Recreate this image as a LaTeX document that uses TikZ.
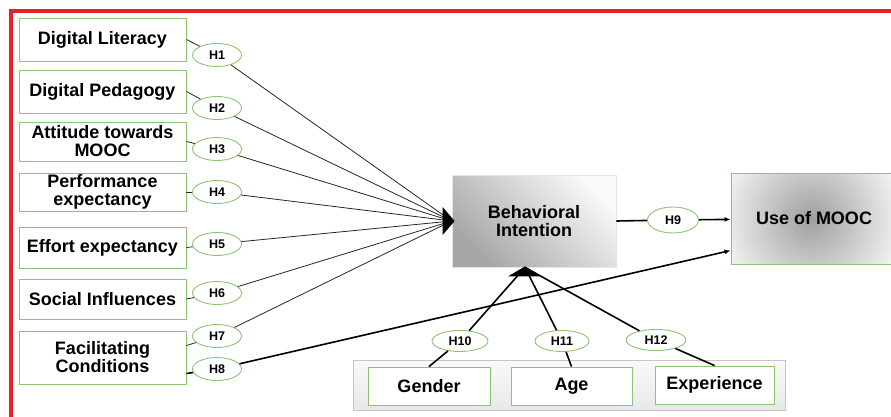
\documentclass[tikz,border=0pt]{standalone}
\usepackage{fontspec}
\setmainfont{Liberation Sans}
\usetikzlibrary{shapes.geometric,arrows.meta,calc}
\definecolor{boxgreen}{RGB}{140,196,116}
\definecolor{framered}{RGB}{232,32,40}
\begin{document}
\begin{tikzpicture}[x=1pt,y=-1pt,
    factor/.style={draw=boxgreen,line width=0.9pt,fill=white,minimum width=167pt,
      inner sep=0pt,align=center,font=\fontsize{18}{18}\selectfont\bfseries},
    hyp/.style={ellipse,draw=boxgreen,line width=0.9pt,fill=white,minimum width=49pt,
      minimum height=23pt,inner sep=0pt,font=\fontsize{12.5}{12.5}\selectfont\bfseries},
    link/.style={draw=black!85,line width=0.8pt},
    boldlink/.style={draw=black,line width=1.6pt}]
    \useasboundingbox (0,0) rectangle (891,417);
    %% red frame
    \draw[framered,line width=3.5pt] (11,417) -- (11,11) -- (891,11);
    %% predictors
    \node[factor,minimum height=43pt] (lit) at (102.5,39.5) {Digital Literacy};
    \node[factor,minimum height=43pt] (ped) at (102.5,91.5) {Digital Pedagogy};
    \node[factor,minimum height=39pt] (att) at (102.5,141.5) {Attitude towards\\MOOC};
    \node[factor,minimum height=38pt] (perf) at (102.5,192) {Performance\\expectancy};
    \node[factor,minimum height=41pt] (eff) at (102.5,247.5) {Effort expectancy};
    \node[factor,minimum height=40pt] (soc) at (102.5,299) {Social Influences};
    \node[factor,minimum height=53pt] (fac) at (102.5,357.5) {Facilitating\\Conditions};
    %% hypotheses H1--H8
    \node[hyp] (h1) at (217,55) {H1};
    \node[hyp] (h2) at (217,108) {H2};
    \node[hyp] (h3) at (217,149) {H3};
    \node[hyp] (h4) at (217,192) {H4};
    \node[hyp] (h5) at (217,244) {H5};
    \node[hyp] (h6) at (217,293) {H6};
    \node[hyp] (h7) at (217,336) {H7};
    \node[hyp] (h8) at (217,369) {H8};
    %% behavioral intention
    \node[draw=gray!20,line width=0.8pt,top color=gray!5,middle color=gray!20,
      bottom color=gray!70,shading angle=-45,minimum width=164pt,minimum height=92pt,
      align=center,font=\fontsize{18}{18}\selectfont\bfseries] (bi) at (534,221)
      {Behavioral\\Intention};
    %% use of MOOC
    \node[draw=boxgreen,line width=0.9pt,fill=gray!4,
      path picture={\shade[inner color=gray!75,outer color=gray!4]
        ($(path picture bounding box.center)+(-3,0)$) circle (100pt);},
      minimum width=166pt,minimum height=91pt,
      font=\fontsize{18}{18}\selectfont\bfseries] (use) at (814,218.5) {Use of MOOC};
    \node[hyp,minimum width=51pt,minimum height=26pt] (h9) at (673,220) {H9};
    %% moderators
    \node[draw=gray!45,line width=0.8pt,top color=gray!4,bottom color=gray!18,
      minimum width=432pt,minimum height=50pt] (mods) at (569,385) {};
    \node[factor,minimum width=122pt,minimum height=38pt] (gen) at (429,386) {Gender};
    \node[factor,minimum width=121pt,minimum height=38pt] (age) at (571.5,386) {Age};
    \node[factor,minimum width=119pt,minimum height=38pt] (exp) at (714.5,385) {Experience};
    \node[hyp,minimum width=56pt,minimum height=21pt] (h10) at (460,341) {H10};
    \node[hyp,minimum width=54pt,minimum height=21pt] (h11) at (562,341) {H11};
    \node[hyp,minimum width=60pt,minimum height=21pt] (h12) at (656,340) {H12};
    \coordinate (modin) at ($(bi.south)+(-9,0)$);
    %% predictors to hypotheses
    \draw[link] (lit.east) -- (h1);
    \draw[link] (ped.east) -- (h2);
    \draw[link] (att.east) -- (h3);
    \draw[link] (perf.east) -- (h4);
    \draw[link] (eff.east) -- (h5);
    \draw[link] (soc.east) -- (h6);
    \draw[link] ($(fac.east)+(0,-12)$) -- (h7);
    \draw[boldlink] ($(fac.east)+(0,16)$) -- (h8);
    %% hypotheses to behavioral intention
    \draw[link] (h1) -- (bi.west);
    \draw[link] (h2) -- (bi.west);
    \draw[link] (h3) -- (bi.west);
    \draw[link] (h4) -- (bi.west);
    \draw[link] (h5) -- (bi.west);
    \draw[link] (h6) -- (bi.west);
    \draw[link] (h7) -- (bi.west);
    \fill ($(bi.west)+(3,0)$) -- ++(-12,-14) -- ++(0,28) -- cycle;
    %% behavioral intention to use
    \draw[boldlink] (bi.east) -- (h9);
    \draw[boldlink,-{Latex[length=6pt,width=5pt]}] (h9) -- (use);
    \draw[boldlink,-{Latex[length=6pt,width=5pt]}] (h8) -- ($(use.west)+(0,32)$);
    %% moderators to behavioral intention
    \draw[boldlink] (gen.north) -- (h10);
    \draw[boldlink] (age.north) -- (h11);
    \draw[boldlink] (exp.north) -- (h12);
    \draw[boldlink] (h10) -- (modin);
    \draw[boldlink] (h11) -- (modin);
    \draw[boldlink] (h12) -- (modin);
    \fill ($(modin)+(0,-1)$) -- ++(-17,10) -- ++(33,0) -- cycle;
\end{tikzpicture}
\end{document}
